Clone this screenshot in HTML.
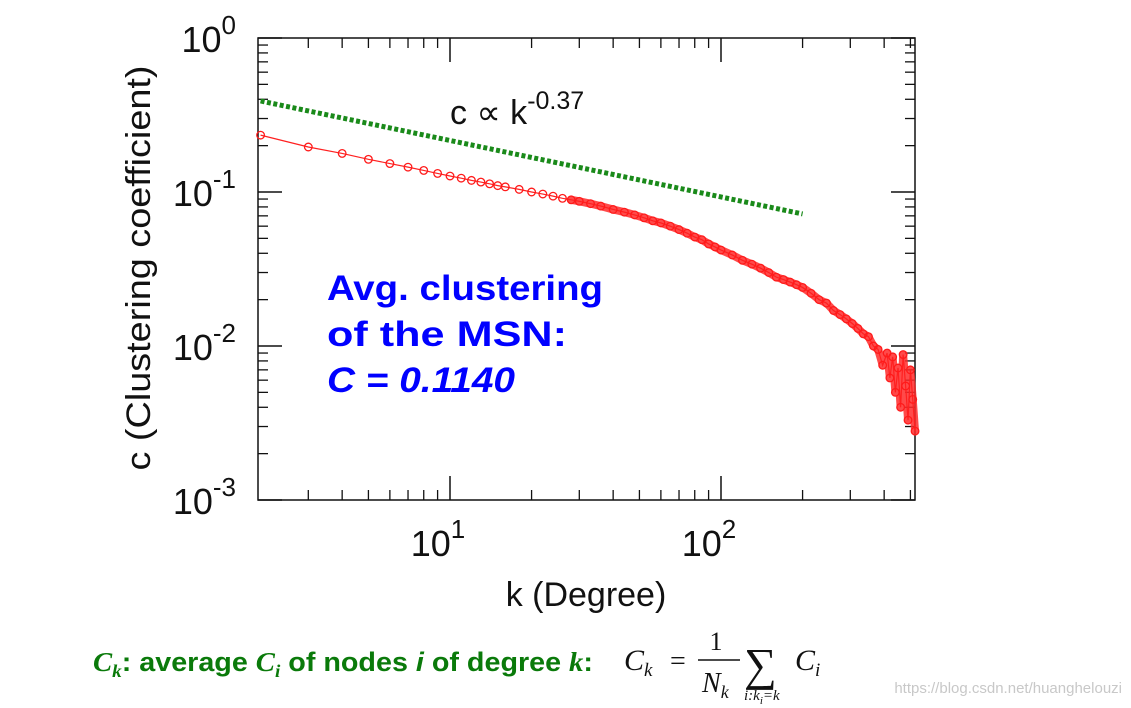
<!DOCTYPE html>
<html><head><meta charset="utf-8">
<style>
body{margin:0;background:#fff;width:1131px;height:708px;overflow:hidden;}
svg{position:absolute;left:0;top:0;}
</style></head>
<body>
<svg width="1131" height="708" font-family="Liberation Sans, Arial, sans-serif">
<g id="axes"></g>
<g id="marks"></g>
<text x="450" y="124" font-size="34" fill="#111">c ∝ k<tspan dy="-15" font-size="25">-0.37</tspan></text>
<text x="327" y="300" font-size="35" font-weight="bold" fill="#0000ff" textLength="276" lengthAdjust="spacingAndGlyphs">Avg. clustering</text>
<text x="327" y="346" font-size="35" font-weight="bold" fill="#0000ff" textLength="240" lengthAdjust="spacingAndGlyphs">of the MSN:</text>
<text x="327" y="392" font-size="35" font-weight="bold" font-style="italic" fill="#0000ff" textLength="188" lengthAdjust="spacingAndGlyphs">C = 0.1140</text>
<text x="586" y="606" font-size="34" fill="#111" text-anchor="middle">k (Degree)</text>
<text transform="translate(150,268) rotate(-90)" font-size="34" fill="#111" text-anchor="middle" textLength="405" lengthAdjust="spacingAndGlyphs">c (Clustering coefficient)</text>
<text x="93" y="671" font-size="27" font-weight="bold" fill="#0a7a0a" textLength="500" lengthAdjust="spacingAndGlyphs"><tspan font-family="Liberation Serif, serif" font-style="italic">C<tspan font-size="18" dy="6">k</tspan></tspan><tspan dy="-6">: average </tspan><tspan font-family="Liberation Serif, serif" font-style="italic">C<tspan font-size="18" dy="6">i</tspan></tspan><tspan dy="-6"> of nodes </tspan><tspan font-style="italic">i</tspan> of degree <tspan font-style="italic" font-family="Liberation Serif, serif">k</tspan>:</text>
<g font-family="Liberation Serif, serif" fill="#111">
<text x="624" y="670" font-size="30" font-style="italic">C<tspan font-size="19" dy="6">k</tspan></text>
<text x="670" y="670" font-size="28">=</text>
<text x="716" y="650" font-size="26" text-anchor="middle">1</text>
<line x1="698" y1="660" x2="740" y2="660" stroke="#111" stroke-width="1.5"/>
<text x="702" y="692" font-size="28" font-style="italic">N<tspan font-size="18" dy="6">k</tspan></text>
<text x="744" y="680" font-size="46">∑</text>
<text x="744" y="700" font-size="15" font-style="italic">i:k<tspan font-size="11" dy="4">i</tspan><tspan dy="-4">=k</tspan></text>
<text x="795" y="670" font-size="30" font-style="italic">C<tspan font-size="19" dy="6">i</tspan></text>
</g>
<text x="1122" y="693" font-size="15" fill="#c8c8c8" text-anchor="end">https://blog.csdn.net/huanghelouzi</text>
</svg>
<script>
const degrees=[2,3,4,5,6,7,8,9,10,11,12,13,14,15,16,18,20,22,24,26,28,30,33,36,40,44,48,52,56,60,65,70,75,80,85,90,95,100,110,120,130,140,150,160,170,180,190,200,215,230,245,260,275,290,305,320,335,350,365,380,395,410,420,430,440,450,460,470,480,490,500,510,520];
const clustering=[.234,.196,.178,.163,.153,.145,.138,.132,.127,.123,.119,.116,.113,.110,.108,.104,.100,.097,.094,.091,.089,.087,.084,.081,.077,.074,.071,.068,.065,.063,.060,.057,.054,.051,.049,.046,.044,.042,.039,.036,.034,.032,.030,.028,.027,.026,.025,.024,.022,.020,.019,.017,.016,.015,.014,.013,.012,.0115,.010,.0095,.0075,.009,.0062,.0085,.005,.0072,.004,.0088,.0055,.0033,.007,.0045,.0028];
const fitK=[2,200];
const fitC=[0.39,0.072];
const yTicks=[0,-1,-2,-3];
const xTicks=[1,2];
const NS="http://www.w3.org/2000/svg";
const L=258,R=915,T=38,B=500;
function X(k){return 450+271*(Math.log10(k)-1);}
function Y(c){return T+154*(-Math.log10(c));}
function mk(tag,attrs,parent){const e=document.createElementNS(NS,tag);for(const a in attrs)e.setAttribute(a,attrs[a]);parent.appendChild(e);return e;}
const ax=document.getElementById('axes'),mg=document.getElementById('marks');
const frame=mk('rect',{x:L,y:T,width:R-L,height:B-T,fill:'none',stroke:'#111','stroke-width':1.5},ax);


yTicks.forEach(p=>{
  const y=Y(Math.pow(10,p));
  mk('line',{x1:L,y1:y,x2:L+24,y2:y,stroke:'#111','stroke-width':1.5},ax);
  mk('line',{x1:R,y1:y,x2:R-24,y2:y,stroke:'#111','stroke-width':1.5},ax);
  const t=mk('text',{x:236,y:y+14,'font-size':36,'text-anchor':'end',fill:'#111'},ax);
  
  
  t.textContent='10';
  const s=mk('tspan',{dy:-18,'font-size':26},t);s.textContent=String(p);
  if(p>-3)for(let m=2;m<10;m++){const yy=Y(m*Math.pow(10,p-1));
    mk('line',{x1:L,y1:yy,x2:L+10,y2:yy,stroke:'#111','stroke-width':1.3},ax);
    mk('line',{x1:R,y1:yy,x2:R-10,y2:yy,stroke:'#111','stroke-width':1.3},ax);}
});
xTicks.forEach(p=>{
  const x=X(Math.pow(10,p));
  mk('line',{x1:x,y1:B,x2:x,y2:B-24,stroke:'#111','stroke-width':1.5},ax);
  mk('line',{x1:x,y1:T,x2:x,y2:T+24,stroke:'#111','stroke-width':1.5},ax);
  const t=mk('text',{x:x-12,y:556,'font-size':36,'text-anchor':'middle',fill:'#111'},ax);
  
  
  t.textContent='10';
  const s=mk('tspan',{dy:-18,'font-size':26},t);s.textContent=String(p);
});
for(let d=0;d<3;d++)for(let m=2;m<10;m++){const k=m*Math.pow(10,d);const x=X(k);if(x<=L+5||x>=R-3)continue;
  mk('line',{x1:x,y1:B,x2:x,y2:B-10,stroke:'#111','stroke-width':1.3},ax);
  mk('line',{x1:x,y1:T,x2:x,y2:T+10,stroke:'#111','stroke-width':1.3},ax);}
const fit=mk('line',{x1:X(fitK[0]),y1:Y(fitC[0]),x2:X(fitK[1]),y2:Y(fitC[1]),stroke:'#1a8a1a','stroke-width':5,'stroke-dasharray':'4 2.5'},mg);


// dense overlapping-marker band for high degrees
const bandIdx=degrees.map((k,i)=>i).filter(i=>degrees[i]>=28);
const band=mk('polyline',{points:bandIdx.map(i=>X(degrees[i])+','+Y(clustering[i])).join(' '),fill:'none',stroke:'#ff2a2a','stroke-width':8,'stroke-linejoin':'round','stroke-linecap':'round','stroke-opacity':0.85},mg);


const pl=mk('polyline',{points:degrees.map((k,i)=>X(k)+','+Y(clustering[i])).join(' '),fill:'none',stroke:'#ff2020','stroke-width':1.2},mg);


degrees.forEach((k,i)=>{
  const c=mk('circle',{cx:X(k),cy:Y(clustering[i]),r:3.8,fill:'none',stroke:'#ff1a1a','stroke-width':1.3},mg);
  
  
});
</script>
</body></html>
